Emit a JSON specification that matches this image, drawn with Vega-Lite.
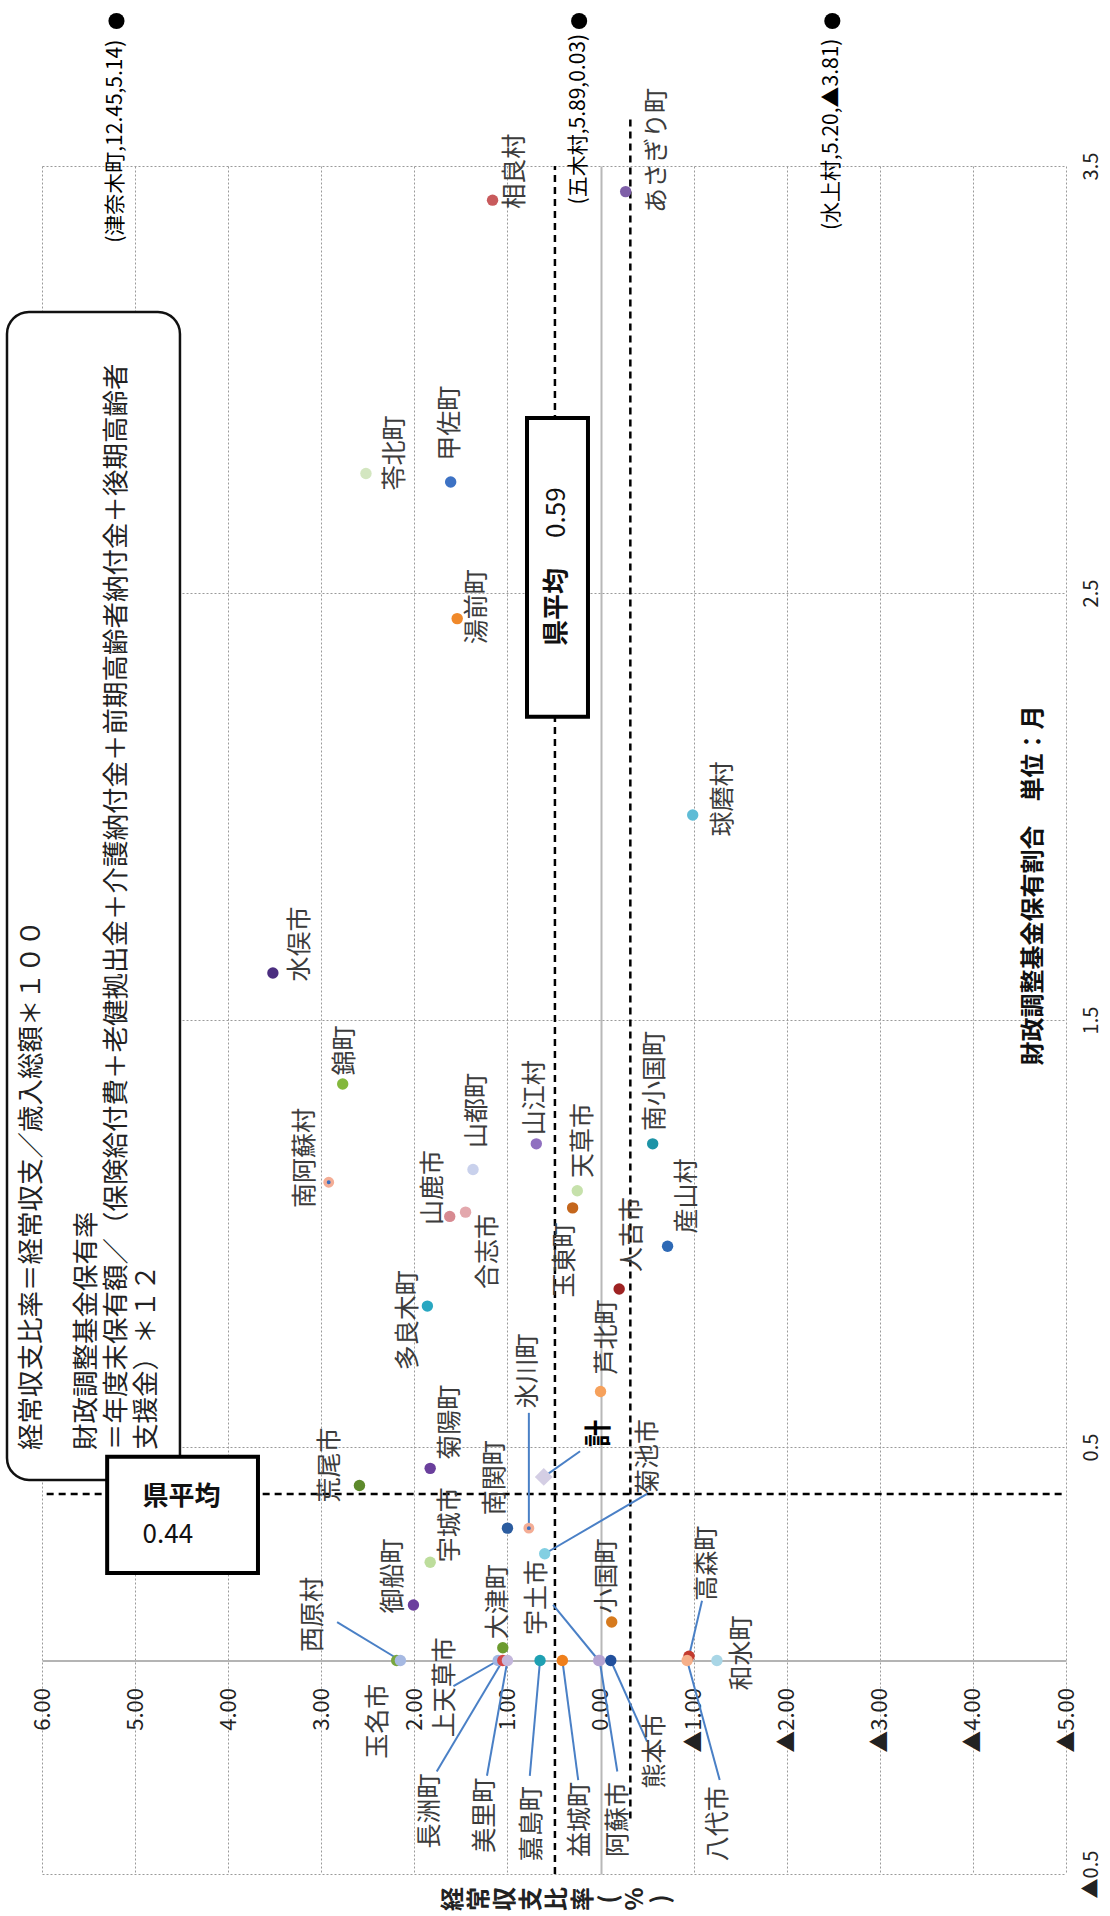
{
  "$schema": "https://vega.github.io/schema/vega-lite/v6.json",
  "width": 1024,
  "height": 1708,
  "autosize": {"type": "none"},
  "padding": {"left": 42, "top": 166, "right": 44, "bottom": 42},
  "background": "#ffffff",
  "config": {"view": {"stroke": null}, "font": "Noto Sans CJK JP"},
  "datasets": {
    "points": [
      {"name":"相良村","v":1.16,"f":3.42,"lv":0.92,"lf":3.40},
      {"name":"あさぎり町","v":-0.27,"f":3.44,"lv":-0.61,"lf":3.39},
      {"name":"苓北町","v":2.52,"f":2.78,"lv":2.21,"lf":2.74},
      {"name":"甲佐町","v":1.61,"f":2.76,"lv":1.62,"lf":2.81},
      {"name":"湯前町","v":1.54,"f":2.44,"lv":1.33,"lf":2.38},
      {"name":"球磨村","v":-0.99,"f":1.98,"lv":-1.32,"lf":1.93},
      {"name":"水俣市","v":3.52,"f":1.61,"lv":3.23,"lf":1.59},
      {"name":"錦町","v":2.77,"f":1.35,"lv":2.75,"lf":1.37},
      {"name":"南阿蘇村","v":2.92,"f":1.12,"lv":3.17,"lf":1.06},
      {"name":"山鹿市","v":1.62,"f":1.04,"lv":1.80,"lf":1.02},
      {"name":"合志市","v":1.45,"f":1.05,"lv":1.21,"lf":0.87},
      {"name":"山都町","v":1.37,"f":1.15,"lv":1.33,"lf":1.20},
      {"name":"山江村","v":0.69,"f":1.21,"lv":0.70,"lf":1.23},
      {"name":"天草市","v":0.25,"f":1.10,"lv":0.19,"lf":1.13},
      {"name":"玉東町","v":0.30,"f":1.06,"lv":0.38,"lf":0.85},
      {"name":"人吉市","v":-0.20,"f":0.87,"lv":-0.34,"lf":0.91},
      {"name":"南小国町","v":-0.56,"f":1.21,"lv":-0.59,"lf":1.24},
      {"name":"産山村","v":-0.72,"f":0.97,"lv":-0.93,"lf":1.00},
      {"name":"多良木町","v":1.86,"f":0.83,"lv":2.07,"lf":0.68},
      {"name":"芦北町","v":0.00,"f":0.63,"lv":-0.07,"lf":0.67},
      {"name":"荒尾市","v":2.59,"f":0.41,"lv":2.91,"lf":0.37},
      {"name":"菊陽町","v":1.83,"f":0.45,"lv":1.62,"lf":0.47},
      {"name":"宇城市","v":1.83,"f":0.23,"lv":1.62,"lf":0.23},
      {"name":"御船町","v":2.01,"f":0.13,"lv":2.23,"lf":0.11},
      {"name":"南関町","v":1.00,"f":0.31,"lv":1.13,"lf":0.34},
      {"name":"氷川町","v":0.77,"f":0.31,"lv":0.78,"lf":0.59,"ev":0.77,"ef":0.58},
      {"name":"菊池市","v":0.60,"f":0.25,"lv":-0.51,"lf":0.39,"ev":-0.50,"ef":0.39},
      {"name":"計","v":0.61,"f":0.43,"lv":0.01,"lf":0.50,"ev":0.22,"ef":0.49},
      {"name":"大津町","v":1.05,"f":0.03,"lv":1.10,"lf":0.05},
      {"name":"小国町","v":-0.12,"f":0.09,"lv":-0.07,"lf":0.11},
      {"name":"高森町","v":-0.95,"f":0.01,"lv":-1.14,"lf":0.14,"ev":-1.09,"ef":0.14},
      {"name":"和水町","v":-1.25,"f":0.00,"lv":-1.52,"lf":-0.07},
      {"name":"玉名市","v":2.19,"f":0.00,"lv":2.39,"lf":-0.23},
      {"name":"西原村","v":2.15,"f":0.00,"lv":3.09,"lf":0.02,"ev":2.83,"ef":0.09},
      {"name":"上天草市","v":1.10,"f":0.00,"lv":1.67,"lf":-0.18,"ev":1.58,"ef":-0.06},
      {"name":"長洲町","v":1.05,"f":0.00,"lv":1.83,"lf":-0.44,"ev":1.76,"ef":-0.26},
      {"name":"美里町","v":1.00,"f":0.00,"lv":1.24,"lf":-0.45,"ev":1.22,"ef":-0.27},
      {"name":"嘉島町","v":0.65,"f":0.00,"lv":0.74,"lf":-0.47,"ev":0.76,"ef":-0.27},
      {"name":"益城町","v":0.41,"f":0.00,"lv":0.22,"lf":-0.46,"ev":0.24,"ef":-0.28},
      {"name":"宇土市","v":0.02,"f":0.00,"lv":0.68,"lf":0.06,"ev":0.51,"ef":0.13},
      {"name":"阿蘇市","v":0.01,"f":0.00,"lv":-0.19,"lf":-0.46,"ev":-0.18,"ef":-0.26},
      {"name":"熊本市","v":-0.11,"f":0.00,"lv":-0.59,"lf":-0.30,"ev":-0.50,"ef":-0.19},
      {"name":"八代市","v":-0.93,"f":0.00,"lv":-1.26,"lf":-0.47,"ev":-1.28,"ef":-0.28}
    ],
    "outliers": [
      {"name":"津奈木町","fund":12.45,"ratio":5.14,"plot_v":5.2,"label":"(津奈木町,12.45,5.14)","lf":3.32},
      {"name":"五木村","fund":5.89,"ratio":0.03,"plot_v":0.23,"label":"(五木村,5.89,0.03)","lf":3.41},
      {"name":"水上村","fund":5.20,"ratio":-3.81,"plot_v":-2.49,"label":"(水上村,5.20,▲3.81)","lf":3.35}
    ],
    "vrefs": [
      {"v":0.49,"f1":-0.5,"f2":3.5},
      {"v":-0.32,"f1":-0.37,"f2":3.62}
    ],
    "hrefs": [
      {"f":0.39,"v1":5.95,"v2":-5}
    ],
    "avgboxes": [
      {"v1":5.30,"v2":3.68,"f1":0.477,"f2":0.205},
      {"v1":0.79,"v2":0.135,"f1":2.91,"f2":2.21}
    ],
    "note": [
      {"v1":6.376,"v2":4.518,"f1":3.158,"f2":0.423,"tv":6.25,"tv2":5.66,"tf":0.493}
    ]
  },
  "resolve": {"axis": {"x": "independent", "y": "independent"}},
  "layer": [
    {
      "data": {"name": "points"},
      "mark": {"type": "point", "opacity": 0},
      "encoding": {
        "x": {"field": "v", "type": "quantitative", "scale": {"domain": [-5, 6], "reverse": true, "nice": false, "zero": false},
          "axis": {
            "values": [6, 5, 4, 3, 2, 1, 0, -1, -2, -3, -4, -5],
            "orient": "bottom", "offset": -213.5,
            "labelExpr": "datum.value < 0 ? '▲' + format(-datum.value, '.2f') : format(datum.value, '.2f')",
            "labelAngle": 270, "labelAlign": "right", "labelBaseline": "middle", "labelPadding": 27,
            "labelFontSize": 22, "labelColor": "#222222", "labelFlush": false, "labelOverlap": false, "labelBound": false,
            "ticks": false, "domain": true, "domainColor": "#b4b4b4", "domainWidth": 2,
            "grid": true,
            "gridColor": {"condition": {"test": "datum.value === 0", "value": "#b8b8b8"}, "value": "#9a9a9a"},
            "gridDash": {"condition": {"test": "datum.value === 0", "value": [1, 0]}, "value": [2, 2]},
            "gridWidth": {"condition": {"test": "datum.value === 0", "value": 2}, "value": 1},
            "title": ["経", "常", "収", "支", "比", "率", "(", "%", ")"],
            "titleAngle": 270, "titleAlign": "center", "titleBaseline": "middle",
            "titleX": 411, "titleY": 238, "titleLineHeight": 26,
            "titleFontSize": 24, "titleFontWeight": "bold", "titleColor": "#222222"
          }
        },
        "y": {"field": "f", "type": "quantitative", "scale": {"domain": [-0.5, 3.5], "nice": false, "zero": false},
          "axis": {
            "values": [-0.5, 0.5, 1.5, 2.5, 3.5],
            "orient": "right",
            "labelExpr": "datum.value < 0 ? '▲' + format(-datum.value, '.1f') : format(datum.value, '.1f')",
            "labelAngle": 270, "labelAlign": "center", "labelBaseline": "top", "labelPadding": 15,
            "labelFontSize": 20, "labelColor": "#222222", "labelFlush": false, "labelOverlap": false, "labelBound": false,
            "ticks": false, "domain": false,
            "grid": true, "gridColor": "#9a9a9a", "gridDash": [2, 2], "gridWidth": 1,
            "title": "財政調整基金保有割合　単位：月",
            "titleAngle": 270, "titleAlign": "center", "titleBaseline": "middle",
            "titleX": -33, "titleY": 719,
            "titleFontSize": 24, "titleFontWeight": "bold", "titleColor": "#111111"
          }
        }
      }
    },
    {
      "data": {"name": "note"},
      "mark": {"type": "rect", "cornerRadius": 22, "fill": "#ffffff", "stroke": "#111111", "strokeWidth": 2.5},
      "encoding": {
        "x": {"field": "v1", "type": "quantitative", "scale": {"domain": [-5, 6], "reverse": true, "nice": false, "zero": false}, "axis": null},
        "x2": {"field": "v2"},
        "y": {"field": "f1", "type": "quantitative", "scale": {"domain": [-0.5, 3.5], "nice": false, "zero": false}, "axis": null},
        "y2": {"field": "f2"}
      }
    },
    {
      "data": {"name": "note"},
      "mark": {"type": "text", "angle": 270, "align": "left", "baseline": "top", "fontSize": 26.5, "color": "#222222",
        "text": "経常収支比率＝経常収支／歳入総額＊１００"},
      "encoding": {
        "x": {"field": "tv", "type": "quantitative", "scale": {"domain": [-5, 6], "reverse": true, "nice": false, "zero": false}, "axis": null},
        "y": {"field": "tf", "type": "quantitative", "scale": {"domain": [-0.5, 3.5], "nice": false, "zero": false}, "axis": null}
      }
    },
    {
      "data": {"name": "note"},
      "mark": {"type": "text", "angle": 270, "align": "left", "baseline": "top", "fontSize": 26.5, "lineHeight": 30, "color": "#222222",
        "text": ["財政調整基金保有率", "＝年度末保有額／（保険給付費＋老健拠出金＋介護納付金＋前期高齢者納付金＋後期高齢者", "支援金）＊１２"]},
      "encoding": {
        "x": {"field": "tv2", "type": "quantitative", "scale": {"domain": [-5, 6], "reverse": true, "nice": false, "zero": false}, "axis": null},
        "y": {"field": "tf", "type": "quantitative", "scale": {"domain": [-0.5, 3.5], "nice": false, "zero": false}, "axis": null}
      }
    },
    {
      "data": {"name": "vrefs"},
      "mark": {"type": "rule", "color": "#000000", "strokeWidth": 2.5, "strokeDash": [7, 5]},
      "encoding": {
        "x": {"field": "v", "type": "quantitative", "scale": {"domain": [-5, 6], "reverse": true, "nice": false, "zero": false}, "axis": null},
        "y": {"field": "f1", "type": "quantitative", "scale": {"domain": [-0.5, 3.5], "nice": false, "zero": false}, "axis": null},
        "y2": {"field": "f2"}
      }
    },
    {
      "data": {"name": "hrefs"},
      "mark": {"type": "rule", "color": "#000000", "strokeWidth": 2.5, "strokeDash": [7, 5]},
      "encoding": {
        "x": {"field": "v1", "type": "quantitative", "scale": {"domain": [-5, 6], "reverse": true, "nice": false, "zero": false}, "axis": null},
        "x2": {"field": "v2"},
        "y": {"field": "f", "type": "quantitative", "scale": {"domain": [-0.5, 3.5], "nice": false, "zero": false}, "axis": null}
      }
    },
    {
      "data": {"name": "avgboxes"},
      "mark": {"type": "rect", "fill": "#ffffff", "stroke": "#000000", "strokeWidth": 4},
      "encoding": {
        "x": {"field": "v1", "type": "quantitative", "scale": {"domain": [-5, 6], "reverse": true, "nice": false, "zero": false}, "axis": null},
        "x2": {"field": "v2"},
        "y": {"field": "f1", "type": "quantitative", "scale": {"domain": [-0.5, 3.5], "nice": false, "zero": false}, "axis": null},
        "y2": {"field": "f2"}
      }
    },
    {
      "data": {"values": [{"text": "県平均", "v": 4.92, "f": 0.383}]},
      "mark": {"type": "text", "align": "left", "baseline": "middle", "fontSize": 26, "fontWeight": "bold", "color": "#111111"},
      "encoding": {
        "x": {"field": "v", "type": "quantitative", "scale": {"domain": [-5, 6], "reverse": true, "nice": false, "zero": false}, "axis": null},
        "y": {"field": "f", "type": "quantitative", "scale": {"domain": [-0.5, 3.5], "nice": false, "zero": false}, "axis": null},
        "text": {"field": "text"}
      }
    },
    {
      "data": {"values": [{"text": "0.44", "v": 4.92, "f": 0.294}]},
      "mark": {"type": "text", "align": "left", "baseline": "middle", "fontSize": 26, "color": "#111111"},
      "encoding": {
        "x": {"field": "v", "type": "quantitative", "scale": {"domain": [-5, 6], "reverse": true, "nice": false, "zero": false}, "axis": null},
        "y": {"field": "f", "type": "quantitative", "scale": {"domain": [-0.5, 3.5], "nice": false, "zero": false}, "axis": null},
        "text": {"field": "text"}
      }
    },
    {
      "data": {"values": [{"text": "県平均", "v": 0.468, "f": 2.376}]},
      "mark": {"type": "text", "angle": 270, "align": "left", "baseline": "middle", "fontSize": 26, "fontWeight": "bold", "color": "#111111"},
      "encoding": {
        "x": {"field": "v", "type": "quantitative", "scale": {"domain": [-5, 6], "reverse": true, "nice": false, "zero": false}, "axis": null},
        "y": {"field": "f", "type": "quantitative", "scale": {"domain": [-0.5, 3.5], "nice": false, "zero": false}, "axis": null},
        "text": {"field": "text"}
      }
    },
    {
      "data": {"values": [{"text": "0.59", "v": 0.468, "f": 2.629}]},
      "mark": {"type": "text", "angle": 270, "align": "left", "baseline": "middle", "fontSize": 26, "color": "#111111"},
      "encoding": {
        "x": {"field": "v", "type": "quantitative", "scale": {"domain": [-5, 6], "reverse": true, "nice": false, "zero": false}, "axis": null},
        "y": {"field": "f", "type": "quantitative", "scale": {"domain": [-0.5, 3.5], "nice": false, "zero": false}, "axis": null},
        "text": {"field": "text"}
      }
    },
    {
      "data": {"name": "points"},
      "transform": [{"filter": "isValid(datum.ev)"}],
      "mark": {"type": "rule", "color": "#4a80c6", "strokeWidth": 2},
      "encoding": {
        "x": {"field": "v", "type": "quantitative", "scale": {"domain": [-5, 6], "reverse": true, "nice": false, "zero": false}, "axis": null},
        "x2": {"field": "ev"},
        "y": {"field": "f", "type": "quantitative", "scale": {"domain": [-0.5, 3.5], "nice": false, "zero": false}, "axis": null},
        "y2": {"field": "ef"}
      }
    },
    {
      "data": {"name": "points"},
      "mark": {"type": "point", "filled": true, "opacity": 1},
      "encoding": {
        "x": {"field": "v", "type": "quantitative", "scale": {"domain": [-5, 6], "reverse": true, "nice": false, "zero": false}, "axis": null},
        "y": {"field": "f", "type": "quantitative", "scale": {"domain": [-0.5, 3.5], "nice": false, "zero": false}, "axis": null},
        "color": {"field": "name", "type": "nominal", "legend": null,
          "scale": {
            "domain": ["相良村","あさぎり町","苓北町","甲佐町","湯前町","球磨村","水俣市","錦町","南阿蘇村","山鹿市","合志市","山都町","山江村","天草市","玉東町","人吉市","南小国町","産山村","多良木町","芦北町","荒尾市","菊陽町","宇城市","御船町","南関町","氷川町","菊池市","計","大津町","小国町","高森町","和水町","玉名市","西原村","上天草市","長洲町","美里町","嘉島町","益城町","宇土市","阿蘇市","熊本市","八代市"],
            "range": ["#c85a5c","#7e5fa8","#d3e6c0","#3d72c4","#f0892a","#5fbcd6","#4b2e80","#84b83c","#3a6fc0","#d78a91","#e3a8ad","#c9d1ec","#9070c0","#c6e1ab","#c4661c","#9e2222","#1d93a6","#2e69b5","#29a7c1","#f6a15c","#5d8a2c","#6a3f9c","#bddd9c","#6c3f9e","#2b5c9f","#3a6fc0","#82cfe2","#d4cee4","#6c9b2f","#d67a1e","#c33a2e","#a9d6e6","#78a63e","#a6b9e2","#9fb5e3","#d54848","#c4b7dc","#1fa0b2","#ef7f1c","#b7a5d3","#b5a3d1","#214f9c","#f6b08a"]
          }
        },
        "shape": {"condition": {"test": "datum.name === '計'", "value": "diamond"}, "value": "circle"},
        "size": {"condition": [
          {"test": "datum.name === '計'", "value": 320},
          {"test": "datum.name === '南阿蘇村' || datum.name === '氷川町'", "value": 55}
        ], "value": 130},
        "stroke": {"condition": {"test": "datum.name === '南阿蘇村' || datum.name === '氷川町'", "value": "#f4ad95"}, "value": "#ffffff"},
        "strokeWidth": {"condition": {"test": "datum.name === '南阿蘇村' || datum.name === '氷川町'", "value": 3.5}, "value": 0}
      }
    },
    {
      "data": {"name": "points"},
      "transform": [{"filter": "datum.name !== '計'"}],
      "mark": {"type": "text", "angle": 270, "align": "left", "baseline": "middle", "fontSize": 25, "color": "#3c3c3c"},
      "encoding": {
        "x": {"field": "lv", "type": "quantitative", "scale": {"domain": [-5, 6], "reverse": true, "nice": false, "zero": false}, "axis": null},
        "y": {"field": "lf", "type": "quantitative", "scale": {"domain": [-0.5, 3.5], "nice": false, "zero": false}, "axis": null},
        "text": {"field": "name"}
      }
    },
    {
      "data": {"name": "points"},
      "transform": [{"filter": "datum.name === '計'"}],
      "mark": {"type": "text", "angle": 270, "align": "left", "baseline": "middle", "fontSize": 27, "fontWeight": "bold", "color": "#000000"},
      "encoding": {
        "x": {"field": "lv", "type": "quantitative", "scale": {"domain": [-5, 6], "reverse": true, "nice": false, "zero": false}, "axis": null},
        "y": {"field": "lf", "type": "quantitative", "scale": {"domain": [-0.5, 3.5], "nice": false, "zero": false}, "axis": null},
        "text": {"field": "name"}
      }
    },
    {
      "data": {"name": "outliers"},
      "mark": {"type": "point", "filled": true, "color": "#000000", "opacity": 1, "size": 260, "yOffset": -145},
      "encoding": {
        "x": {"field": "plot_v", "type": "quantitative", "scale": {"domain": [-5, 6], "reverse": true, "nice": false, "zero": false}, "axis": null},
        "y": {"datum": 3.5, "type": "quantitative", "scale": {"domain": [-0.5, 3.5], "nice": false, "zero": false}, "axis": null}
      }
    },
    {
      "data": {"name": "outliers"},
      "mark": {"type": "text", "angle": 270, "align": "left", "baseline": "middle", "fontSize": 21, "color": "#000000"},
      "encoding": {
        "x": {"field": "plot_v", "type": "quantitative", "scale": {"domain": [-5, 6], "reverse": true, "nice": false, "zero": false}, "axis": null},
        "y": {"field": "lf", "type": "quantitative", "scale": {"domain": [-0.5, 3.5], "nice": false, "zero": false}, "axis": null},
        "text": {"field": "label"}
      }
    }
  ]
}
